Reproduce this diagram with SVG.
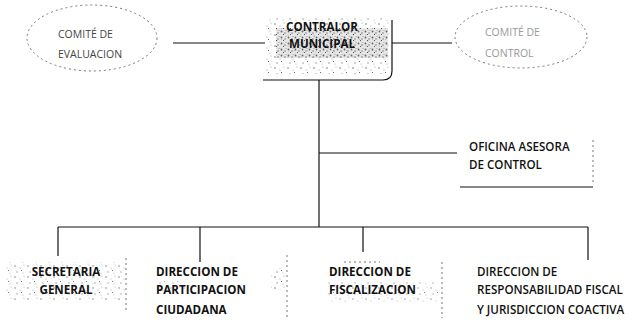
<svg xmlns="http://www.w3.org/2000/svg" width="641" height="328" viewBox="0 0 641 328">
<style>
.ln{stroke:#111;stroke-width:1.2;fill:none}
.dl{stroke:#777;stroke-width:1;fill:none;stroke-dasharray:2 3}
.t{font-family:"Open Sans","Liberation Sans",sans-serif;font-size:11.6px;fill:#111}
.b{font-weight:bold}
.lt{fill:#444;font-size:10.5px}
.fa{fill:#999;font-size:10.5px}
</style>
<defs>
<pattern id="spk" width="13" height="11" patternUnits="userSpaceOnUse">
<rect width="13" height="11" fill="#fff"/>
<circle cx="2" cy="2" r="0.8" fill="#555"/>
<circle cx="7" cy="4" r="0.6" fill="#888"/>
<circle cx="11" cy="1" r="0.5" fill="#777"/>
<circle cx="4" cy="8" r="0.7" fill="#666"/>
<circle cx="10" cy="9" r="0.6" fill="#999"/>
<rect x="8" y="6" width="1" height="1" fill="#444"/>
</pattern>
<pattern id="spkd" width="7" height="6" patternUnits="userSpaceOnUse">
<rect width="7" height="6" fill="#ddd"/>
<circle cx="1.5" cy="1.5" r="0.9" fill="#333"/>
<circle cx="5" cy="3" r="0.8" fill="#555"/>
<rect x="3" y="4" width="1" height="1" fill="#222"/>
<circle cx="6" cy="0.5" r="0.5" fill="#666"/>
</pattern>
</defs>
<rect width="641" height="328" fill="#fff"/>
<g id="connectors">
<line class="ln" x1="173" y1="43" x2="265" y2="43"/>
<line class="ln" x1="392" y1="43" x2="452" y2="43"/>
<line class="ln" x1="319" y1="80" x2="319" y2="227"/>
<line class="ln" x1="319" y1="153" x2="457" y2="153"/>
<line class="ln" x1="58" y1="227" x2="588" y2="227"/>
<line class="ln" x1="58" y1="227" x2="58" y2="256"/>
<line class="ln" x1="200" y1="227" x2="200" y2="262"/>
<line class="ln" x1="363" y1="227" x2="363" y2="252"/>
<line class="ln" x1="588" y1="227" x2="588" y2="260"/>
</g>
<g id="comite-evaluacion">
<ellipse cx="92" cy="38" rx="65" ry="33" class="dl" stroke="#666" stroke-dasharray="6 4 2 5"/>
<text class="t lt" x="58" y="38">COMITÉ DE</text>
<text class="t lt" x="58" y="58">EVALUACION</text>
</g>
<g id="contralor">
<rect x="266" y="18" width="124" height="56" fill="url(#spk)" opacity="0.8"/>
<rect x="276" y="28" width="112" height="30" fill="url(#spkd)" opacity="0.75"/>
<path class="ln" d="M392,20 V71 Q392,80 383,80 H263" stroke-width="1.6"/>
<text class="t b" x="322" y="31" text-anchor="middle" font-size="13.5">CONTRALOR</text>
<text class="t b" x="322" y="48" text-anchor="middle" font-size="13.5">MUNICIPAL</text>
</g>
<g id="comite-control">
<ellipse cx="521" cy="37" rx="66" ry="31" class="dl" stroke="#bbb" stroke-dasharray="2 7"/>
<text class="t fa" x="485" y="36">COMITÉ DE</text>
<text class="t fa" x="485" y="57">CONTROL</text>
</g>
<g id="oficina-asesora">
<text class="t" x="469" y="151" font-weight="600">OFICINA ASESORA</text>
<text class="t" x="469" y="169" font-weight="600">DE CONTROL</text>
<line class="ln" x1="460" y1="187" x2="593" y2="187" stroke-width="1.5"/>
<line class="dl" x1="593" y1="140" x2="593" y2="182"/>
</g>
<g id="secretaria">
<rect x="5" y="262" width="120" height="38" fill="url(#spk)" opacity="0.7"/>
<line class="dl" x1="126" y1="258" x2="126" y2="312"/>
<text class="t b" x="66" y="276" text-anchor="middle">SECRETARIA</text>
<text class="t b" x="66" y="294" text-anchor="middle">GENERAL</text>
</g>
<g id="participacion">
<rect x="271" y="268" width="16" height="22" fill="url(#spk)" opacity="0.8"/>
<rect x="155" y="280" width="30" height="14" fill="url(#spk)" opacity="0.5"/>
<line class="dl" x1="287" y1="255" x2="287" y2="320"/>
<text class="t b" x="156" y="276">DIRECCION DE</text>
<text class="t b" x="156" y="294">PARTICIPACION</text>
<text class="t b" x="156" y="314">CIUDADANA</text>
</g>
<g id="fiscalizacion">
<rect x="328" y="282" width="110" height="20" fill="url(#spk)" opacity="0.6"/>
<line class="dl" x1="344" y1="262" x2="380" y2="262"/>
<line class="dl" x1="442" y1="262" x2="442" y2="318"/>
<text class="t b" x="329" y="276">DIRECCION DE</text>
<text class="t b" x="329" y="294">FISCALIZACION</text>
</g>
<g id="responsabilidad">
<text class="t" x="477" y="276" font-weight="600">DIRECCION DE</text>
<text class="t" x="477" y="294" font-weight="600">RESPONSABILIDAD FISCAL</text>
<text class="t" x="477" y="314" font-weight="600">Y JURISDICCION COACTIVA</text>
</g>
</svg>
